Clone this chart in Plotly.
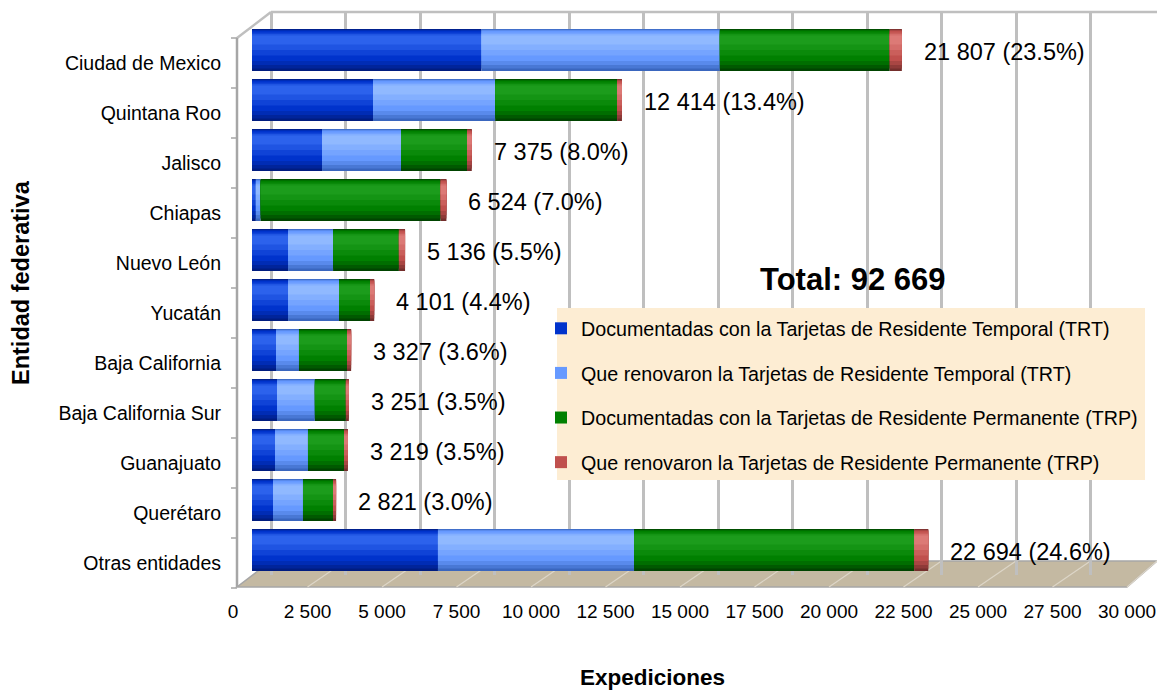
import plotly.graph_objects as go

# ---------------- data ----------------
states = ["Ciudad de Mexico", "Quintana Roo", "Jalisco", "Chiapas", "Nuevo León",
          "Yucatán", "Baja California", "Baja California Sur", "Guanajuato",
          "Querétaro", "Otras entidades"]
trt_doc = [7700, 4060, 2350, 130, 1210, 1210, 805, 840, 772, 705, 6240]
trt_ren = [8000, 4100, 2650, 160, 1510, 1710, 772, 1270, 1107, 1006, 6580]
trp_doc = [5700, 4090, 2215, 6040, 2210, 1040, 1611, 1041, 1208, 1007, 9400]
trp_ren = [407, 164, 160, 194, 206, 141, 139, 100, 132, 103, 474]
pct_labels = [23.5, 13.4, 8.0, 7.0, 5.5, 4.4, 3.6, 3.5, 3.5, 3.0, 24.6]
series_names = [
    "Documentadas con la Tarjetas de Residente Temporal (TRT)",
    "Que renovaron la Tarjetas de Residente Temporal (TRT)",
    "Documentadas con la Tarjetas de Residente Permanente (TRP)",
    "Que renovaron la Tarjetas de Residente Permanente (TRP)",
]
x_ticks = list(range(0, 30001, 2500))

# ---------------- styling ----------------
W, H = 1157, 692
L, R, T, B = 252, 11, 12, 117
PW, PH = W - L - R, H - T - B
XMAX = 30000
PXU = PW / XMAX                    # pixels per unit
DEPTH = 19                          # 3-D depth offset in px
SHIFT = DEPTH / PXU
FONT = "Liberation Sans, Arial, sans-serif"

main_colors = ["#0033CC", "#6699FF", "#008000", "#C0504D"]
dark_colors = ["#001C80", "#3A66BE", "#004400", "#742E2C"]
light_colors = ["#2C62EC", "#90B9FF", "#1C9C1C", "#DC7A76"]


def mix(c1, c2, t):
    a = [int(c1[i:i + 2], 16) for i in (1, 3, 5)]
    b = [int(c2[i:i + 2], 16) for i in (1, 3, 5)]
    return "#" + "".join(f"{round(x + (y - x) * t):02X}" for x, y in zip(a, b))


def px(p):
    return (p - L) / PW


def py(p):
    return (T + PH - p) / PH


series = [trt_doc, trt_ren, trp_doc, trp_ren]
n = len(states)
bases = []
acc = [0] * n
for s in series:
    bases.append(list(acc))
    acc = [a + v for a, v in zip(acc, s)]
totals = acc

fig = go.Figure()
# (width, offset, colour-kind, mix amount) -> cylinder-like shading
layers = [(0.84, -0.42, "d", 0.0), (0.78, -0.41, "d", 0.35), (0.70, -0.40, "d", 0.7),
          (0.60, -0.38, "m", 0.0), (0.46, -0.35, "l", 0.35), (0.32, -0.32, "l", 0.7),
          (0.18, -0.29, "l", 1.0)]
for i, (s, b) in enumerate(zip(series, bases)):
    for (w, off, kind, t) in layers:
        if kind == "d":
            col = mix(dark_colors[i], main_colors[i], t)
        elif kind == "m":
            col = main_colors[i]
        else:
            col = mix(main_colors[i], light_colors[i], t)
        fig.add_trace(go.Bar(
            y=states, x=s, base=b, orientation="h",
            width=w, offset=off,
            marker=dict(color=col, line=dict(width=0)),
            name=series_names[i], legendgroup=series_names[i],
            showlegend=(kind == "m"),
            hovertemplate="%{y}: %{x}<extra></extra>",
        ))

# invisible trace to activate the back-wall grid axis
fig.add_trace(go.Scatter(x=[None], y=[None], xaxis="x2", showlegend=False, hoverinfo="skip"))


def fmt(v):
    return f"{v:,}".replace(",", " ")


annotations = []
for st, t, p in zip(states, totals, pct_labels):
    annotations.append(dict(
        x=t, y=st, xref="x", yref="y", text=f"{fmt(t)} ({p:.1f}%)",
        showarrow=False, xanchor="left", yanchor="middle", xshift=20, yshift=-2,
        font=dict(family=FONT, size=23.5, color="black")))

annotations.append(dict(
    x=px(853), y=py(279), xref="paper", yref="paper",
    text=f"<b>Total: {fmt(sum(totals))}</b>", showarrow=False,
    xanchor="center", yanchor="middle", font=dict(family=FONT, size=31, color="black")))
annotations.append(dict(
    x=px(652), y=py(678), xref="paper", yref="paper", text="<b>Expediciones</b>",
    showarrow=False, xanchor="center", yanchor="middle",
    font=dict(family=FONT, size=22.5, color="black")))
annotations.append(dict(
    x=px(21), y=py(283), xref="paper", yref="paper", text="<b>Entidad federativa</b>",
    showarrow=False, xanchor="center", yanchor="middle", textangle=-90,
    font=dict(family=FONT, size=23.5, color="black")))

shapes = []
grey = "#A6A6A6"
# floor
floor_front, floor_back = 587, 561
x_front0 = L - DEPTH
x_back0 = L + DEPTH
shapes.append(dict(
    type="path", xref="paper", yref="paper", layer="between",
    path=(f"M {px(x_front0 + 4)},{py(floor_front)} L {px(x_front0 + XMAX * PXU)},{py(floor_front)} "
          f"L {px(W)},{py(floor_back)} L {px(x_back0)},{py(floor_back)} Z"),
    fillcolor="#C4B9A2", line=dict(color=grey, width=1.5)))
for v in x_ticks[1:]:
    shapes.append(dict(
        type="line", xref="paper", yref="paper", layer="between",
        x0=px(x_front0 + v * PXU), y0=py(floor_front),
        x1=px(min(x_back0 + v * PXU, W)), y1=py(floor_back),
        line=dict(color="#DDD6C8", width=1.2)))
# walls
shapes.append(dict(type="line", xref="paper", yref="paper", layer="below",
                   x0=px(x_back0), y0=py(T), x1=px(W), y1=py(T),
                   line=dict(color="#BFBFBF", width=2.5)))
shapes.append(dict(type="line", xref="paper", yref="paper", layer="below",
                   x0=px(x_front0 + 4), y0=py(38), x1=px(x_back0), y1=py(T),
                   line=dict(color="#BFBFBF", width=2.5)))
shapes.append(dict(type="line", xref="paper", yref="paper", layer="below",
                   x0=px(x_front0 + 4), y0=py(38), x1=px(x_front0 + 4), y1=py(floor_front),
                   line=dict(color=grey, width=2.5)))
for k in range(n + 1):
    yy = 38 + k * 50
    shapes.append(dict(type="line", xref="paper", yref="paper", layer="below",
                       x0=px(x_front0 - 2), y0=py(yy), x1=px(x_front0 + 4), y1=py(yy),
                       line=dict(color=grey, width=1.5)))
# legend background box
shapes.append(dict(type="rect", xref="paper", yref="paper", layer="above",
                   x0=px(557), x1=px(1145), y0=py(480), y1=py(308),
                   fillcolor="#FDEDD3", line=dict(width=0)))
fig.update_layout(annotations=annotations, shapes=shapes)

fig.update_layout(
    width=W, height=H,
    margin=dict(l=L, r=R, t=T, b=B, autoexpand=False),
    paper_bgcolor="white", plot_bgcolor="rgba(0,0,0,0)",
    barmode="overlay",
    separators=". ",
    font=dict(family=FONT, size=18, color="black"),
    showlegend=True,
    legend=dict(
        x=px(541), y=py(309), xanchor="left", yanchor="top",
        bgcolor="rgba(0,0,0,0)", borderwidth=0,
        font=dict(family=FONT, size=19.7, color="black"),
        traceorder="grouped", tracegroupgap=16, itemclick=False,
    ),
    xaxis=dict(
        range=[0, XMAX], tickvals=x_ticks, tickformat=",d",
        showgrid=False, zeroline=False, showline=False, ticks="",
        ticklabelshift=-DEPTH, ticklabelstandoff=23,
        tickfont=dict(family=FONT, size=19, color="black"),
        automargin=False, fixedrange=True,
    ),
    xaxis2=dict(
        overlaying="x", anchor="y", side="bottom",
        range=[-SHIFT, XMAX - SHIFT], tickvals=x_ticks,
        showgrid=True, gridcolor="#BFBFBF", gridwidth=2.5,
        showticklabels=False, zeroline=False, showline=False, ticks="",
        automargin=False, fixedrange=True,
    ),
    yaxis=dict(
        type="category", categoryorder="array", categoryarray=states,
        range=[n - 0.5, -0.76],
        showgrid=False, zeroline=False, showline=False, ticks="",
        ticklabelshift=-13, ticklabelstandoff=30,
        tickfont=dict(family=FONT, size=19.5, color="black"),
        automargin=False, fixedrange=True,
    ),
)

fig.write_html("out.html", config={"displayModeBar": False},
               post_script="document.body.style.margin='0px';")
